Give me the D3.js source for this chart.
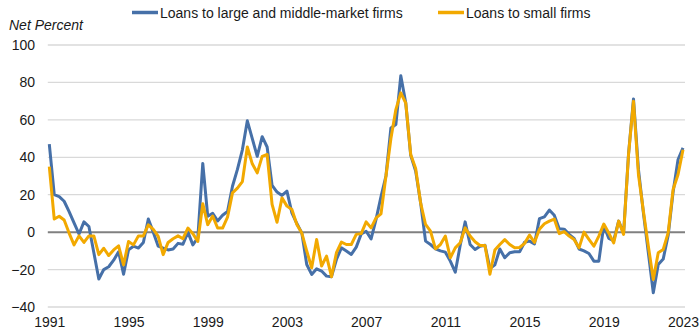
<!DOCTYPE html>
<html>
<head>
<meta charset="utf-8">
<script src="https://cdn.jsdelivr.net/npm/d3@7"></script>
<style>
  html, body { margin: 0; padding: 0; background: #fff; }
  svg { display: block; font-family: "Liberation Sans", Arial, sans-serif; }
</style>
</head>
<body>
<svg id="chart" width="700" height="336"></svg>
<script>
// Quarterly observations, 1991 Q1 .. 2023 Q1 (net percent of banks tightening)
const startYear = 1991;
const seriesNames = ["Loans to large and middle-market firms", "Loans to small firms"];
const largeFirms = [
  47, 20, 19, 16.5, 11, 5, -1, 5.5, 3, -11,
  -25, -20, -18.5, -15, -10.5, -22.5, -9.5, -7.5, -8.5, -5.5,
  7, 0, -7.5, -8.5, -9.5, -9, -6, -6.5, 0, -6.8,
  -3, 36.7, 8.5, 10, 6, 9, 11, 24.5, 33.5, 44,
  59.5, 50, 40.5, 51, 45.5, 25, 21.4, 19.6, 21.9, 10.3,
  4.6, -0.4, -17.3, -22.6, -19.6, -20.8, -23.5, -23.8, -14.6, -8.4,
  -10.1, -11.9, -8, -1, 0.5, -3.6, 6.8, 19, 30, 55.7,
  57.5, 83.6, 69, 41, 32.6, 15.7, -4.8, -6.6, -8.9, -10,
  -10.7, -15.5, -21.4, -7, 5.5, -6.6, -9.3, -7.5, -7, -19.5,
  -17.5, -9, -13.7, -11, -10.5, -10.5, -5.4, -4.8, -6.3, 7.2,
  8.2, 11.8, 9, 1.8, 1.6, -1.2, -3.3, -9, -10, -11.4,
  -15.5, -15.5, 3.6, -3.3, -4.5, 5.9, -0.6, 41.8, 71.2, 33.5,
  10.3, -11, -32.4, -17.3, -14.4, -1.8, 21.5, 38.8, 45
];
const smallFirms = [
  35, 7, 8.5, 6.5, -0.5, -6.8, -2, -5.5, -2, -2,
  -12, -8.6, -12.5, -9.5, -7.3, -17.5, -5, -6.8, -2, -2,
  3.9, 1.5, -2.3, -12, -5.5, -3.5, -2, -3.5, 2.2, -0.8,
  -5, 15.2, 4, 8.6, 2.2, 2.2, 8, 21, 23.5, 27,
  45.5, 36.5, 31.7, 40.5, 41.5, 14.8, 5.3, 18.3, 13.9, 12.1,
  4.1, -0.4, -10.1, -19, -3.9, -18.1, -12.8, -23.8, -11, -5.3,
  -6.6, -6.6, -1.2, -0.8, 5.5, 2.3, 7.6, 9.8, 30, 50,
  65.5, 74.4, 69, 41.5, 34, 15.7, 4.1, 0.5, -8.9, -6.6,
  -2.1, -13.7, -8.4, -5.7, 2.3, -2.1, -5.1, -7.1, -7.1, -22.5,
  -9.6, -6.6, -4, -6.6, -8.4, -8.2, -6, -1.6, -5.5, 1.6,
  4.5, 5.9, 7, -0.8, 0.3, -2.1, -3.9, -8.4, 0, -3.9,
  -7.5, -2.1, 4.3, -0.4, -5.7, 5.9, -1.2, 41.5, 70, 30.8,
  11.2, -7.5, -25.3, -11, -9.3, -0.4, 22.8, 30.8, 44
];
const yTicks = [-40, -20, 0, 20, 40, 60, 80, 100];
const xTickLabels = ["1991", "1995", "1999", "2003", "2007", "2011", "2015", "2019", "2023"];
const yAxisTitle = "Net Percent";

const colors = ["#4670A8", "#F2A900"];

const svg = d3.select("#chart");
const n = largeFirms.length;

const x = d3.scaleLinear().domain([0, n - 1]).range([49.3, 683]);
const y = d3.scaleLinear().domain([-40, 100]).range([307, 45]);

// gridlines
svg.append("g")
  .selectAll("line")
  .data(yTicks.filter(d => d !== 0))
  .join("line")
  .attr("x1", x(0) - 1.5).attr("x2", x(n - 1) + 2)
  .attr("y1", d => y(d)).attr("y2", d => y(d))
  .attr("stroke", "#d9d9d9").attr("stroke-width", 1.3);

// zero line
svg.append("line")
  .attr("x1", x(0) - 1.5).attr("x2", x(n - 1) + 2)
  .attr("y1", y(0)).attr("y2", y(0))
  .attr("stroke", "#808080").attr("stroke-width", 2);

// y axis labels
const yAxis = d3.axisLeft(y).tickValues(yTicks).tickSize(0).tickPadding(0).tickFormat(d3.format("d"));
const gy = svg.append("g").attr("transform", "translate(35,0)").call(yAxis);
gy.select(".domain").remove();
gy.selectAll("text").attr("font-size", 14).attr("fill", "#1a1a1a").attr("font-family", "'Liberation Sans', Arial, sans-serif");

// x axis labels
const xTickIdx = xTickLabels.map((d, i) => i * 16);
const xAxis = d3.axisBottom(x).tickValues(xTickIdx).tickSize(0).tickPadding(0)
  .tickFormat((d, i) => xTickLabels[i]);
const gx = svg.append("g").attr("transform", "translate(0,317)").call(xAxis);
gx.select(".domain").remove();
gx.selectAll("text").attr("font-size", 14).attr("fill", "#1a1a1a").attr("font-family", "'Liberation Sans', Arial, sans-serif");

// y title
svg.append("text")
  .attr("x", 9).attr("y", 30)
  .attr("font-size", 14).attr("font-style", "italic").attr("fill", "#1a1a1a")
  .text(yAxisTitle);

// lines
const line = d3.line().x((d, i) => x(i)).y(d => y(d));
[largeFirms, smallFirms].forEach((s, k) => {
  svg.append("path")
    .datum(s)
    .attr("fill", "none")
    .attr("stroke", colors[k])
    .attr("stroke-width", 3)
    .attr("stroke-linejoin", "round")
    .attr("d", line);
});

// legend
const legendX = [132, 438];
const lg = svg.append("g");
seriesNames.forEach((name, k) => {
  lg.append("line")
    .attr("x1", legendX[k]).attr("x2", legendX[k] + 26)
    .attr("y1", 12.5).attr("y2", 12.5)
    .attr("stroke", colors[k]).attr("stroke-width", 3.5);
  lg.append("text")
    .attr("x", legendX[k] + 28).attr("y", 17.5)
    .attr("font-size", 14).attr("fill", "#1a1a1a")
    .text(name);
});
</script>
</body>
</html>
